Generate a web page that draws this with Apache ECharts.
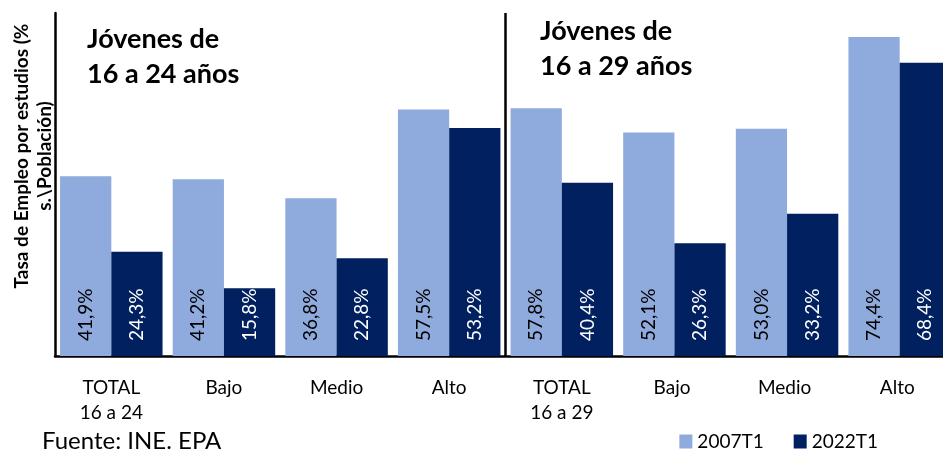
<!DOCTYPE html>
<html>
<head>
<meta charset="utf-8">
<script src="https://cdn.jsdelivr.net/npm/echarts@6/dist/echarts.min.js"></script>
<style>
html,body{margin:0;padding:0;background:#fff;}
#c{width:943px;height:454px;}
</style>
</head>
<body>
<div id="c"></div>
<script>
var categories = ['TOTAL\n16 a 24', 'Bajo', 'Medio', 'Alto', 'TOTAL\n16 a 29', 'Bajo ', 'Medio ', 'Alto '];
var seriesNames = ['2007T1', '2022T1'];
var values2007 = [41.9, 41.2, 36.8, 57.5, 57.8, 52.1, 53.0, 74.4];
var values2022 = [24.3, 15.8, 22.8, 53.2, 40.4, 26.3, 33.2, 68.4];
var groupTitles = ['Jóvenes de\n16 a 24 años', 'Jóvenes de\n16 a 29 años'];
var yName = 'Tasa de Empleo por estudios (%\ns.\\Población)';
var sourceText = 'Fuente: INE. EPA';

var FONT = 'Lato, "Open Sans", sans-serif';
var chart = echarts.init(document.getElementById('c'));

function fmt(p){ return p.value.toFixed(1).replace('.', ',') + '%'; }

function labelCfg(color){
  return {
    show: true, position: 'insideBottom', rotate: 90, distance: 15,
    align: 'left', verticalAlign: 'middle',
    color: color, fontSize: 19, fontFamily: FONT, formatter: fmt
  };
}

var option = {
  animation: false,
  textStyle: {fontFamily: FONT},
  grid: {left: 55, top: 13, bottom: 98, width: 901, containLabel: false, outerBoundsMode: 'none'},
  legend: {
    data: seriesNames, right: 60, top: 427, itemWidth: 13, itemHeight: 14, itemGap: 30,
    icon: 'rect', textStyle: {fontSize: 19, color: '#000', fontFamily: FONT}
  },
  xAxis: {
    type: 'category', data: categories,
    axisLine: {lineStyle: {color: '#000', width: 2.5}},
    axisTick: {show: false},
    axisLabel: {color: '#000', fontSize: 19, lineHeight: 25, margin: 19, fontFamily: FONT, interval: 0}
  },
  yAxis: {
    type: 'value', min: 0, max: 80,
    axisLine: {show: true, lineStyle: {color: '#000', width: 2.5}},
    axisTick: {show: false}, axisLabel: {show: false}, splitLine: {show: false}
  },
  series: [
    {name: seriesNames[0], type: 'bar', data: values2007, barGap: '0%', barCategoryGap: '9%',
     itemStyle: {color: '#8FAADC'}, label: labelCfg('#000')},
    {name: seriesNames[1], type: 'bar', data: values2022, barGap: '0%', barCategoryGap: '9%',
     itemStyle: {color: '#002060'}, label: labelCfg('#fff')}
  ],
  graphic: [
    {type: 'text', x: 33, y: 156, rotation: Math.PI / 2,
     style: {text: yName, fontSize: 19, fontWeight: 'bold', lineHeight: 23, fill: '#000', fontFamily: FONT,
             align: 'center', verticalAlign: 'middle'}},
    {type: 'text', x: 42, y: 441, style: {text: sourceText, fontSize: 24, fill: '#000', fontFamily: FONT, verticalAlign: 'middle'}},
    {type: 'text', x: 87, y: 57, style: {text: groupTitles[0], fontSize: 27, fontWeight: 'bold', lineHeight: 35, fill: '#000', fontFamily: FONT, verticalAlign: 'middle'}},
    {type: 'text', x: 540, y: 49, style: {text: groupTitles[1], fontSize: 27, fontWeight: 'bold', lineHeight: 35, fill: '#000', fontFamily: FONT, verticalAlign: 'middle'}}
  ]
};
chart.setOption(option);

var xa = chart.convertToPixel({xAxisIndex: 0}, categories[3]);
var xb = chart.convertToPixel({xAxisIndex: 0}, categories[4]);
var yTop = chart.convertToPixel({yAxisIndex: 0}, 80);
var yBot = chart.convertToPixel({yAxisIndex: 0}, 0);
var xm = (xa + xb) / 2;
option.graphic.push({type: 'line', shape: {x1: xm, y1: yTop, x2: xm, y2: yBot}, style: {stroke: '#000', lineWidth: 2.5}, z: 10});
chart.setOption({graphic: option.graphic});
</script>
</body>
</html>
